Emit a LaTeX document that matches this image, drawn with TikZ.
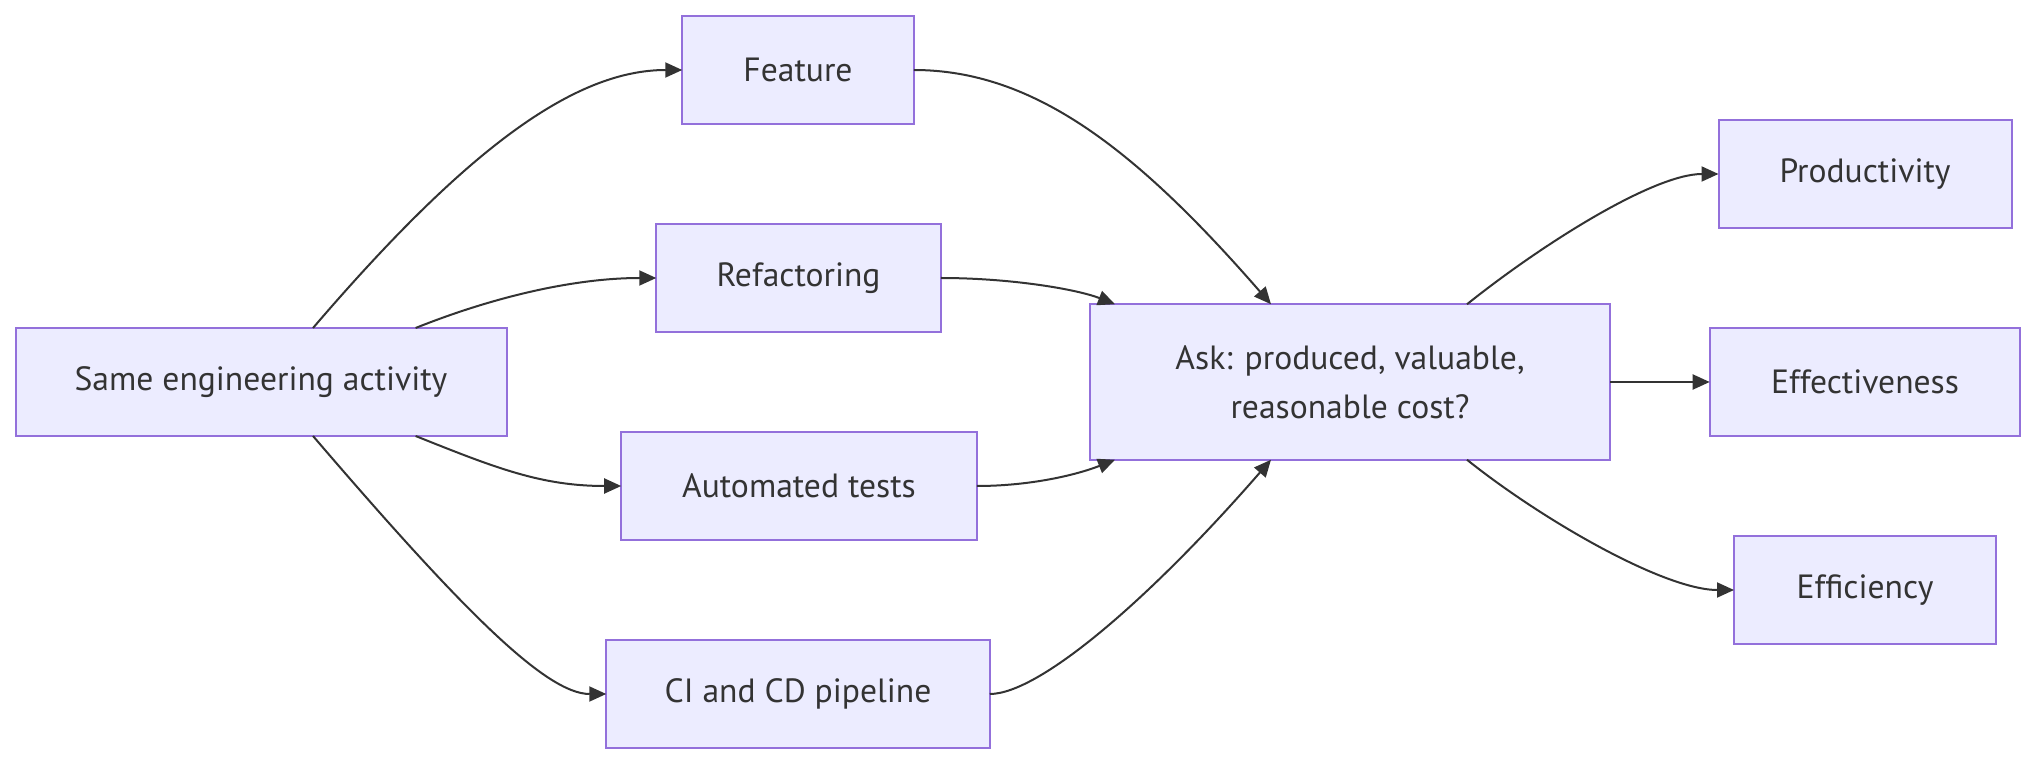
\documentclass[tikz,border=0pt]{standalone}
\usepackage{fontspec}
\setmainfont{PT Sans}
\usetikzlibrary{arrows.meta}
\definecolor{boxfill}{HTML}{ECECFF}
\definecolor{boxline}{HTML}{9370DB}
\definecolor{ink}{HTML}{333333}
\begin{document}
\begin{tikzpicture}[x=0.5pt,y=-0.5pt,
  box/.style={draw=boxline,fill=boxfill,line width=1pt,inner sep=0pt,outer sep=0pt,
    minimum height=54pt,align=center,text=ink,font=\fontsize{16.8pt}{24.5pt}\selectfont},
  link/.style={draw=ink,line width=1pt,-{Triangle[length=8.5pt,width=7.5pt]}}]
\useasboundingbox (0,0) rectangle (2036,764);
\node[box,minimum width=245.5pt] (same) at (261,382) {Same engineering activity};
\node[box,minimum width=115.75pt] (feat) at (798,70) {Feature};
\node[box,minimum width=142.25pt] (refa) at (798.5,278) {Refactoring};
\node[box,minimum width=177.8pt] (auto) at (799,486) {Automated tests};
\node[box,minimum width=191.75pt] (cicd) at (798,694) {CI and CD pipeline};
\node[box,minimum width=260pt,minimum height=77.75pt] (ask) at (1350,382) {Ask: produced, valuable,\\reasonable cost?};
\node[box,minimum width=146.5pt] (prod) at (1865,174) {Productivity};
\node[box,minimum width=155.3pt] (effe) at (1865,382) {Effectiveness};
\node[box,minimum width=131pt] (effi) at (1865,590) {Efficiency};

\draw[link] ([xshift=26pt]same.north) .. controls +(150,-175) and +(-110,0) .. (feat.west);
\draw[link] ([xshift=77.3pt]same.north) .. controls +(80,-32) and +(-80,0) .. (refa.west);
\draw[link] ([xshift=77.3pt]same.south) .. controls +(80,32) and +(-80,0) .. (auto.west);
\draw[link] ([xshift=26pt]same.south) .. controls +(150,175) and +(-60,0) .. (cicd.west);

\draw[link] (feat.east) .. controls +(120,0) and +(-135,-155) .. ([xshift=-39.5pt]ask.north);
\draw[link] (refa.east) .. controls +(70,0) and +(-38,-15) .. ([xshift=-117.5pt]ask.north);
\draw[link] (auto.east) .. controls +(54,0) and +(-38,15) .. ([xshift=-117.5pt]ask.south);
\draw[link] (cicd.east) .. controls +(50,0) and +(-120,138) .. ([xshift=-39.5pt]ask.south);

\draw[link] ([xshift=58.5pt]ask.north) .. controls +(75,-60) and +(-65,0) .. (prod.west);
\draw[link] (ask.east) -- (effe.west);
\draw[link] ([xshift=58.5pt]ask.south) .. controls +(75,60) and +(-70,0) .. (effi.west);
\end{tikzpicture}
\end{document}
